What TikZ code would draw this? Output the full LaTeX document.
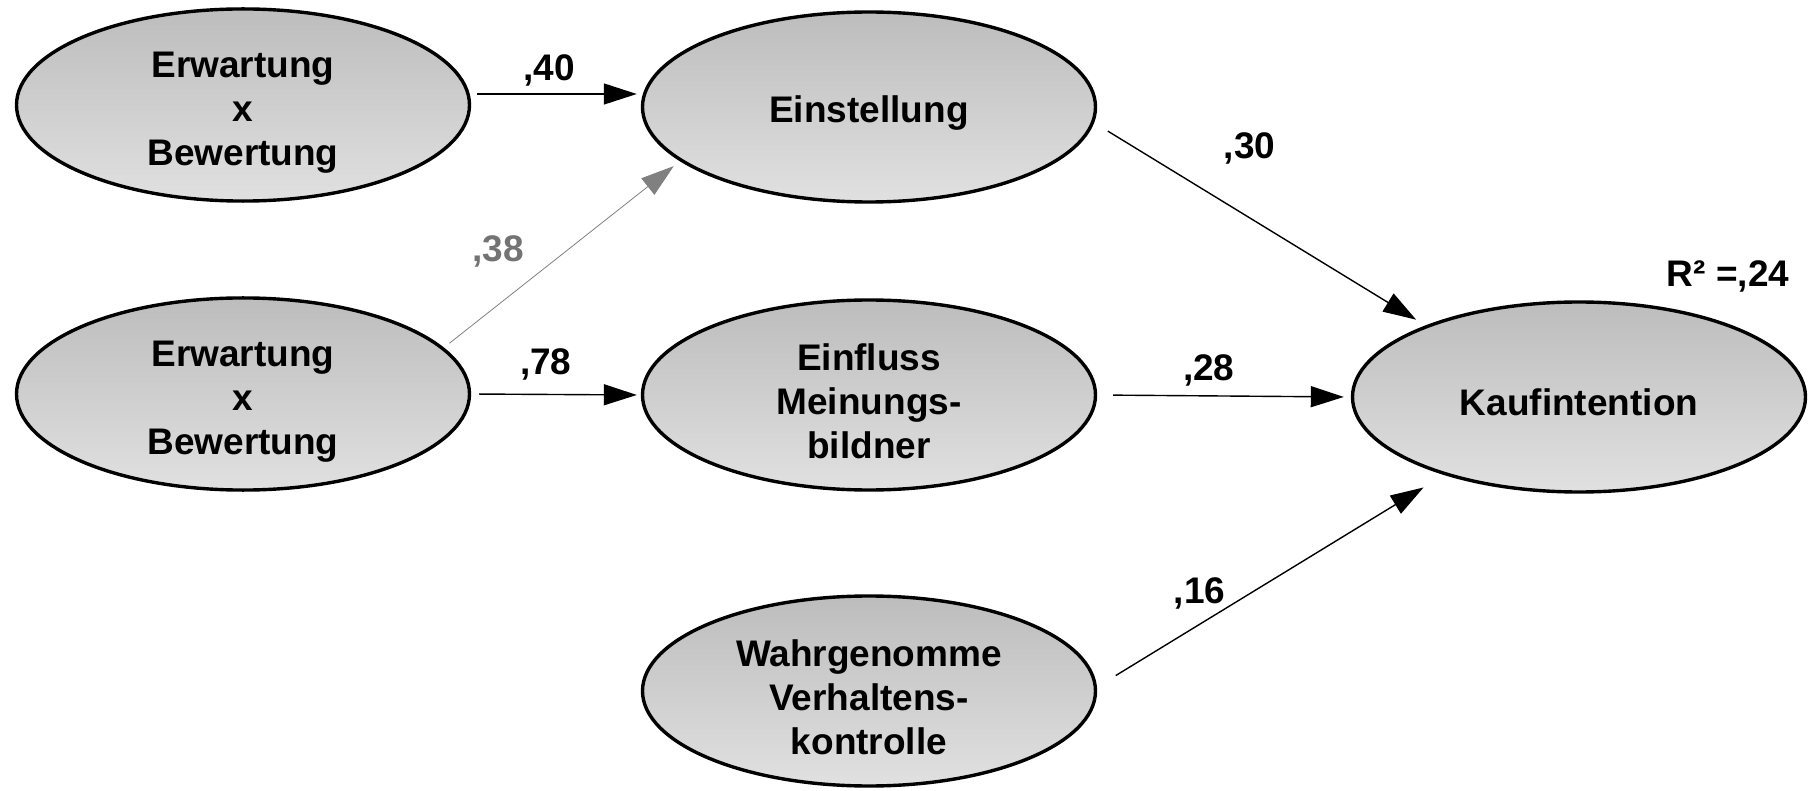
\documentclass[tikz,border=0pt]{standalone}
\usepackage{fontspec}
\setmainfont{Liberation Sans}
\usepackage{tikz}
\usetikzlibrary{shapes.geometric}
\usetikzlibrary{arrows.meta}

\begin{document}
\begin{tikzpicture}[->,>={Triangle[length=16.5pt,width=10.5pt]},line width=0.7pt,node distance=144pt,
	main node/.style={ellipse, draw, line width=1.7pt, top color=black!26, bottom color=black!12, minimum width=226.5pt, minimum height=95pt, inner sep=0pt, align=center, font=\bfseries\fontsize{18.5}{22}\selectfont, text height=19pt},
	three lines/.style={text height=64pt},
	coef/.style={font=\bfseries\fontsize{18.5}{22}\selectfont}]
			
			\useasboundingbox (0,0) rectangle (908pt,-395.5pt);
			
			\node[main node, three lines] (erw1) at (121.5pt,-52.5pt) {Erwartung\\x\\Bewertung};
			\node[main node, three lines] (erw2) [below of=erw1, yshift=-0.5pt] {Erwartung\\x\\Bewertung};
			\node[main node] (einst) [right of=erw1, xshift=169pt, yshift=-1pt] {Einstellung};
			\node[main node, three lines] (einfl) [below of=einst] {Einfluss\\Meinungs-\\bildner};
			\node[main node, three lines] (wahr) [below of=einfl, yshift=-4pt] {Wahrgenomme\\Verhaltens-\\kontrolle};
			\node[main node] (kauf) [right of=einfl, xshift=211pt, yshift=-1pt] {Kaufintention};
			\node[coef] (rsq) [above of=kauf, xshift=74.5pt, yshift=-83.5pt] {R² =,24};
			
			\path[every node/.style={coef}]
			([yshift=5.5pt]erw1.east)
			edge[shorten <=3pt, shorten >=2pt] node[pos=0.46, above] {,40} ([yshift=6.5pt]einst.west)
			
			(erw2.13)
			edge[gray, line width=0.4pt, shorten <=3.5pt, shorten >=4pt] node[pos=0.31, above=8pt, xshift=-9.5pt, text=black!55] {,38} (einst.196)
			(erw2.east)
			edge[shorten <=4pt, shorten >=2pt] node[pos=0.44, above=3.3pt] {,78} (einfl.west)
			
			(einst.-4)
			edge[shorten <=8pt, shorten >=5.5pt] node[pos=0.36, above=12pt, xshift=18pt] {,30} (kauf.155)
			
			(einfl.east)
			edge[shorten <=8pt, shorten >=3.5pt] node[pos=0.44, above=1.3pt] {,28} (kauf.west)
			
			(wahr.1)
			edge[shorten <=11pt, shorten >=12pt] node[pos=0.33, above, xshift=-6pt] {,16} (kauf.210);
			
		\end{tikzpicture}
\end{document}
